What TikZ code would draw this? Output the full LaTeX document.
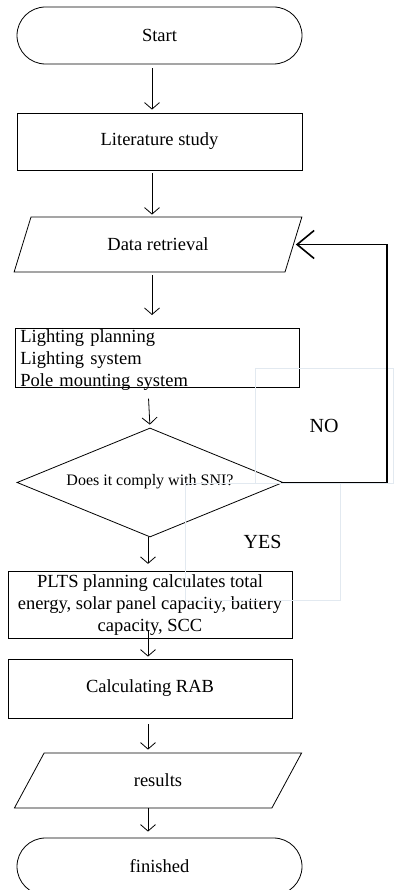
\documentclass[tikz,border=0pt]{standalone}
\usepackage{fontspec}
\setmainfont{Liberation Serif}
\usetikzlibrary{arrows.meta,shapes.geometric}
\definecolor{faint}{RGB}{226,233,240}
\newcommand\flowfont{\fontsize{18.5}{22}\selectfont}
\newcommand\askfont{\fontsize{16}{19}\selectfont}
\newcommand\labfont{\fontsize{20}{24}\selectfont}

\begin{document}
\begin{tikzpicture}[x=1pt,y=1pt,
 term/.style={draw,line width=.8pt,rounded corners=28.5pt,minimum width=285pt,minimum height=57pt,font=\flowfont},
 proc/.style={draw,line width=.8pt,minimum width=285pt,minimum height=57pt,font=\flowfont},
 io/.style={draw,line width=.8pt,trapezium,trapezium left angle=70,trapezium right angle=110,trapezium stretches=true,minimum width=288pt,minimum height=55pt,font=\flowfont},
 decide/.style={draw,line width=.8pt,diamond,aspect=2.44,minimum width=266pt,minimum height=109pt,inner sep=0pt,font=\askfont},
 note/.style={draw=faint,line width=.8pt,font=\labfont},
 flow/.style={-{Straight Barb[length=6.5pt,width=15pt]},line width=.8pt,shorten <=3pt,shorten >=3pt},
 back/.style={-{Straight Barb[length=17pt,width=28pt]},line width=1.6pt}]
\useasboundingbox (0,0) rectangle (393,-890);
\coordinate (colA) at (152,0);
\coordinate (colB) at (148,0);
\coordinate (loopR) at (387,0);

\node[term] (start) at (159.5,-35.5) {Start};
\node[proc] (lit) at (159.5,-141.5) {Literature study};
\node[io] (data) at (158,-244.5) {Data retrieval};
\node[draw,line width=.8pt,align=left,text width=274pt,inner xsep=5pt,inner ysep=1pt,text depth=44pt,font=\flowfont,anchor=north west] (light) at (15,-328) {Lighting planning\\Lighting system\\Pole mounting system};
\node[decide] (dec) at (150,-482.5) {\raisebox{5pt}{Does it comply with SNI?}};
\node[proc,minimum width=284pt,minimum height=66pt,align=center] (plts) at (150,-605) {PLTS planning calculates total\\energy, solar panel capacity, battery\\capacity, SCC};
\node[proc,minimum width=284pt,minimum height=59pt] (rab) at (150,-688.5) {Calculating RAB};
\node[io] (res) at (158,-780.5) {results};
\node[term] (fin) at (159.5,-866.5) {finished};

\node[note,minimum width=138pt,minimum height=115pt] (no) at (324,-425.5) {NO};
\node[note,minimum width=155pt,minimum height=117pt] (yes) at (262.5,-541.5) {YES};

\draw[flow,shorten <=4pt] (start.south -| colA) -- (lit.north -| colA);
\draw[flow,shorten >=2pt] (lit.south -| colA) -- (data.north -| colA);
\draw[flow,shorten >=13pt] (data.south -| colA) -- (light.north -| colA);
\draw[flow,shorten <=11pt] (light.south -| colB) -- (dec.north);
\draw[flow,shorten <=0pt,shorten >=7pt] (dec.south -| colB) -- (plts.north -| colB);
\draw[flow,shorten <=-9pt,shorten >=2pt] (plts.south -| colB) -- (rab.north -| colB);
\draw[flow,shorten <=6pt] (rab.south -| colB) -- (res.north -| colB);
\draw[flow,shorten <=0pt,shorten >=6pt] (res.south -| colB) -- (fin.north -| colB);
\draw[back,shorten >=2pt] (dec.east) -| (loopR |- data.east) -- (data.east);
\end{tikzpicture}
\end{document}
